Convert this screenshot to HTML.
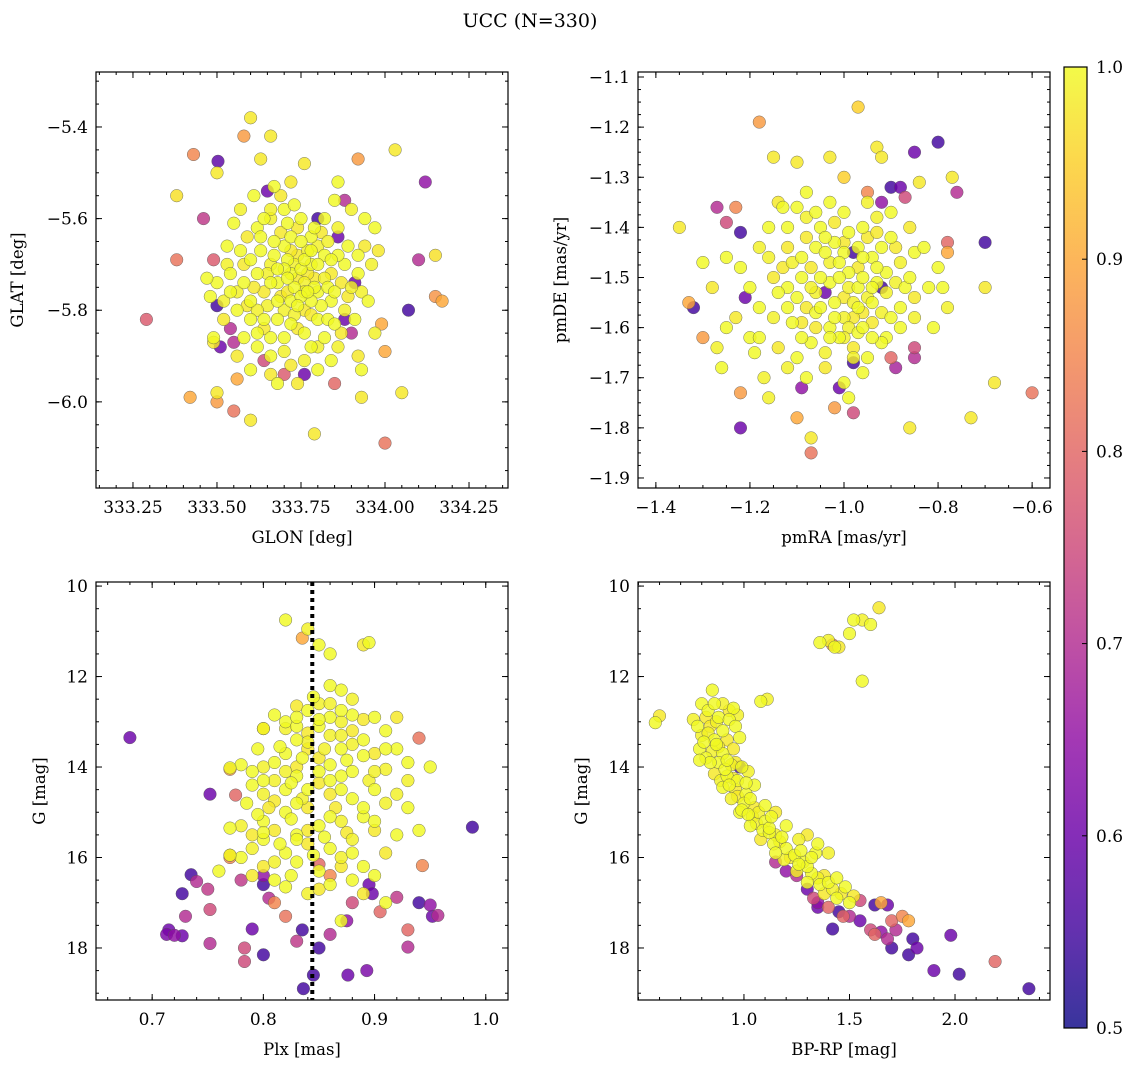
<!DOCTYPE html>
<html><head><meta charset="utf-8">
<style>
html,body{margin:0;padding:0;background:#fff;}
svg{display:block;font-family:"DejaVu Serif","Liberation Serif",serif;}
</style></head>
<body>
<svg id="fig" width="1136" height="1067" viewBox="0 0 1136 1067" xmlns="http://www.w3.org/2000/svg">
<defs>
<linearGradient id="cbgrad" x1="0" y1="1" x2="0" y2="0">
<stop offset="0" stop-color="#0d0887"/><stop offset="0.1" stop-color="#41049d"/><stop offset="0.2" stop-color="#6a00a8"/><stop offset="0.3" stop-color="#8f0da4"/><stop offset="0.4" stop-color="#b12a90"/><stop offset="0.5" stop-color="#cc4778"/><stop offset="0.6" stop-color="#e16462"/><stop offset="0.7" stop-color="#f2844b"/><stop offset="0.8" stop-color="#fca636"/><stop offset="0.9" stop-color="#fcce25"/><stop offset="1" stop-color="#f0f921"/>
</linearGradient>
</defs>
<text x="530" y="27" text-anchor="middle" font-size="19">UCC (N=330)</text>
</svg>
<script>
// ---- data arrays ----
const skyOutliers=[[333.29,-5.82,.78],[333.38,-5.69,.82],[333.38,-5.55,.97],[333.43,-5.46,.85],[333.46,-5.60,.72],[333.503,-5.475,.58],[333.49,-5.69,.78],[333.50,-5.50,.98],[333.42,-5.99,.9],[333.50,-5.98,.98],[333.50,-6.00,.88],[333.55,-6.02,.82],[333.60,-6.04,.98],[333.58,-5.42,.88],[333.60,-5.38,.98],[333.66,-5.42,.98],[333.63,-5.47,.98],[333.76,-5.48,.98],[333.92,-5.47,.88],[334.03,-5.45,.98],[334.12,-5.52,.65],[334.15,-5.68,.97],[334.10,-5.69,.7],[334.15,-5.77,.87],[334.17,-5.78,.9],[334.07,-5.80,.55],[334.00,-6.09,.82],[334.05,-5.98,.98],[333.79,-6.07,.98],[333.93,-5.99,.98],[333.80,-5.60,.55],[333.65,-5.54,.6],[333.50,-5.79,.55],[333.51,-5.88,.6],[333.49,-5.87,.98],[333.55,-5.87,.7],[333.54,-5.84,.7],[333.64,-5.91,.75],[333.70,-5.94,.78],[333.76,-5.94,.6],[333.85,-5.96,.8],[333.90,-5.85,.7],[333.88,-5.82,.6],[333.86,-5.64,.6],[333.94,-5.66,.98],[333.91,-5.74,.6],[333.99,-5.83,.9],[334.0,-5.89,.9],[333.92,-5.90,.98],[333.88,-5.56,.7],[333.56,-5.95,.9],[333.66,-5.94,.98]];
const skyCluster=[[333.62,-5.62],[333.66,-5.60],[333.70,-5.58],[333.74,-5.62],[333.78,-5.64],[333.82,-5.60],[333.86,-5.62],[333.70,-5.66],[333.74,-5.68],[333.78,-5.70],[333.82,-5.68],[333.66,-5.70],[333.62,-5.72],[333.58,-5.70],[333.54,-5.72],[333.50,-5.74],[333.56,-5.76],[333.60,-5.78],[333.64,-5.76],[333.68,-5.74],[333.72,-5.72],[333.76,-5.74],[333.80,-5.76],[333.84,-5.72],[333.88,-5.70],[333.92,-5.72],[333.96,-5.70],[333.72,-5.78],[333.76,-5.80],[333.80,-5.82],[333.84,-5.78],[333.88,-5.80],[333.68,-5.82],[333.64,-5.84],[333.60,-5.82],[333.56,-5.80],[333.52,-5.78],[333.70,-5.86],[333.74,-5.84],[333.78,-5.88],[333.82,-5.86],[333.86,-5.88],[333.66,-5.90],[333.72,-5.92],[333.62,-5.88],[333.58,-5.86],[333.76,-5.76],[333.73,-5.75],[333.69,-5.77],[333.75,-5.71],[333.71,-5.69],[333.77,-5.67],[333.67,-5.65],[333.79,-5.73],[333.83,-5.75],[333.81,-5.79],[333.65,-5.79],[333.63,-5.67],[333.59,-5.64],[333.55,-5.61],[333.53,-5.66],[333.57,-5.58],[333.61,-5.55],[333.69,-5.55],[333.73,-5.57],[333.85,-5.56],[333.90,-5.58],[333.94,-5.60],[333.98,-5.67],[333.95,-5.78],[333.91,-5.82],[333.93,-5.76],[333.89,-5.66],[333.87,-5.85],[333.84,-5.91],[333.80,-5.93],[333.76,-5.91],[333.68,-5.96],[333.74,-5.96],[333.64,-5.60],[333.72,-5.64],[333.80,-5.66],[333.70,-5.71],[333.74,-5.73],[333.78,-5.78],[333.66,-5.74],[333.62,-5.80],[333.58,-5.74],[333.52,-5.82],[333.48,-5.77],[333.47,-5.73],[333.53,-5.70],[333.49,-5.86],[333.56,-5.90],[333.60,-5.93],[333.93,-5.93],[333.97,-5.85],[333.86,-5.52],[333.72,-5.52],[333.67,-5.53],[333.97,-5.62]];
const skyCore=[[333.71,-5.73],[333.73,-5.70],[333.75,-5.77],[333.77,-5.72],[333.79,-5.75],[333.74,-5.79],[333.70,-5.80],[333.68,-5.71],[333.72,-5.67],[333.76,-5.69],[333.80,-5.70],[333.82,-5.73],[333.85,-5.76],[333.78,-5.81],[333.72,-5.83],[333.68,-5.78],[333.65,-5.72],[333.67,-5.68],[333.69,-5.63],[333.75,-5.65],[333.79,-5.62],[333.83,-5.65],[333.86,-5.68],[333.87,-5.74],[333.83,-5.82],[333.76,-5.85],[333.70,-5.89],[333.64,-5.82],[333.61,-5.75],[333.60,-5.69],[333.63,-5.64],[333.66,-5.58],[333.71,-5.61],[333.81,-5.63],[333.84,-5.69],[333.77,-5.76],[333.73,-5.81],[333.66,-5.86],[333.59,-5.79],[333.57,-5.67],[333.75,-5.60],[333.90,-5.75],[333.92,-5.68],[333.89,-5.77],[333.54,-5.76],[333.62,-5.85],[333.80,-5.88],[333.85,-5.83],[333.71,-5.76],[333.78,-5.67]];
const pmOutliers=[[-1.35,-1.40,.98],[-1.33,-1.55,.9],[-1.32,-1.56,.55],[-1.30,-1.62,.88],[-1.27,-1.36,.7],[-1.25,-1.39,.75],[-1.23,-1.36,.85],[-1.22,-1.41,.55],[-1.21,-1.54,.6],[-1.22,-1.80,.6],[-1.22,-1.73,.88],[-1.18,-1.19,.88],[-1.15,-1.26,.98],[-1.10,-1.27,.98],[-0.97,-1.16,.95],[-1.00,-1.30,.95],[-0.93,-1.24,.98],[-0.92,-1.26,.98],[-0.85,-1.25,.6],[-0.80,-1.23,.55],[-0.77,-1.30,.98],[-0.76,-1.33,.7],[-0.70,-1.43,.55],[-0.70,-1.52,.98],[-0.68,-1.71,.98],[-0.60,-1.73,.82],[-0.73,-1.78,.98],[-0.78,-1.43,.8],[-0.78,-1.45,.9],[-0.88,-1.32,.6],[-0.87,-1.34,.75],[-0.86,-1.80,.98],[-0.85,-1.66,.7],[-0.85,-1.64,.75],[-0.90,-1.66,.8],[-0.89,-1.68,.68],[-0.98,-1.77,.75],[-0.98,-1.67,.55],[-1.02,-1.76,.88],[-1.01,-1.72,.6],[-1.07,-1.85,.82],[-1.07,-1.82,.98],[-1.09,-1.72,.65],[-1.10,-1.78,.9],[-0.95,-1.33,.85],[-0.92,-1.35,.65],[-1.04,-1.53,.6],[-0.92,-1.52,.55],[-0.98,-1.45,.55],[-0.90,-1.32,.55]];
const pmCluster=[[-1.10,-1.36],[-1.08,-1.38],[-1.05,-1.40],[-1.02,-1.39],[-0.99,-1.41],[-0.96,-1.40],[-0.93,-1.38],[-0.90,-1.42],[-1.12,-1.44],[-1.09,-1.46],[-1.06,-1.44],[-1.03,-1.47],[-1.00,-1.45],[-0.97,-1.48],[-0.94,-1.46],[-0.91,-1.49],[-0.88,-1.47],[-0.85,-1.45],[-1.15,-1.50],[-1.12,-1.52],[-1.09,-1.50],[-1.06,-1.53],[-1.03,-1.51],[-1.00,-1.54],[-0.97,-1.52],[-0.94,-1.55],[-0.91,-1.53],[-0.88,-1.56],[-0.85,-1.54],[-0.82,-1.52],[-1.18,-1.56],[-1.15,-1.58],[-1.12,-1.56],[-1.09,-1.59],[-1.06,-1.57],[-1.03,-1.60],[-1.00,-1.58],[-0.97,-1.61],[-0.94,-1.59],[-0.91,-1.62],[-0.88,-1.60],[-0.85,-1.58],[-1.20,-1.62],[-1.14,-1.64],[-1.10,-1.66],[-1.07,-1.63],[-1.04,-1.65],[-1.01,-1.62],[-0.98,-1.64],[-0.95,-1.66],[-0.92,-1.63],[-1.12,-1.68],[-1.08,-1.70],[-1.04,-1.68],[-1.00,-1.71],[-0.96,-1.69],[-1.17,-1.70],[-1.25,-1.60],[-1.28,-1.52],[-1.25,-1.46],[-1.22,-1.48],[-1.18,-1.44],[-1.16,-1.40],[-1.14,-1.35],[-1.08,-1.33],[-1.03,-1.35],[-0.95,-1.35],[-0.90,-1.37],[-0.86,-1.40],[-0.83,-1.44],[-0.80,-1.48],[-0.78,-1.56],[-0.81,-1.60],[-0.84,-1.31],[-0.79,-1.52],[-1.26,-1.68],[-1.27,-1.64],[-1.18,-1.62],[-1.13,-1.48],[-0.99,-1.49],[-1.01,-1.50],[-0.98,-1.55],[-1.05,-1.56],[-0.96,-1.57],[-1.02,-1.43],[-0.93,-1.51],[-0.89,-1.51],[-1.11,-1.59],[-1.07,-1.48],[-1.13,-1.36],[-0.96,-1.60],[-0.92,-1.57],[-1.20,-1.52],[-1.23,-1.58],[-1.19,-1.65],[-1.30,-1.47],[-1.16,-1.74],[-0.99,-1.74],[-1.03,-1.26]];
const pmCore=[[-1.01,-1.47],[-0.99,-1.52],[-0.96,-1.50],[-0.98,-1.58],[-1.02,-1.55],[-1.05,-1.50],[-0.95,-1.54],[-0.93,-1.48],[-1.00,-1.43],[-0.97,-1.44],[-1.04,-1.45],[-1.07,-1.52],[-1.10,-1.54],[-1.08,-1.42],[-0.92,-1.44],[-0.94,-1.62],[-0.99,-1.60],[-1.03,-1.62],[-1.06,-1.60],[-0.90,-1.58],[-0.87,-1.52],[-1.11,-1.47],[-1.14,-1.53],[-0.95,-1.42],[-1.00,-1.37],[-1.06,-1.37],[-0.98,-1.66],[-1.09,-1.62],[-0.93,-1.41],[-0.97,-1.56],[-1.02,-1.58],[-1.16,-1.46],[-1.12,-1.40],[-0.89,-1.44],[-0.86,-1.50],[-1.04,-1.42],[-1.00,-1.62],[-0.96,-1.46],[-1.08,-1.56],[-0.94,-1.52]];
const plxOutliers=[[0.68,13.35,.6],[0.752,14.6,.6],[0.77,14.05,.88],[0.775,14.62,.8],[0.75,16.7,.72],[0.735,16.38,.55],[0.727,16.8,.55],[0.73,17.3,.7],[0.715,17.6,.6],[0.713,17.7,.62],[0.72,17.72,.65],[0.727,17.73,.6],[0.74,16.53,.7],[0.752,17.15,.75],[0.752,17.9,.7],[0.783,18.0,.75],[0.783,18.3,.75],[0.79,17.58,.6],[0.8,18.15,.55],[0.80,16.4,.65],[0.80,16.6,.55],[0.78,16.5,.72],[0.836,18.9,.55],[0.845,18.6,.55],[0.85,18.0,.55],[0.876,18.6,.6],[0.893,18.5,.62],[0.83,17.85,.72],[0.835,17.6,.55],[0.86,17.7,.7],[0.875,17.4,.65],[0.895,16.6,.6],[0.898,16.8,.6],[0.92,16.88,.72],[0.93,17.6,.8],[0.93,17.98,.7],[0.94,17.0,.55],[0.95,17.05,.65],[0.952,17.3,.6],[0.957,17.28,.7],[0.988,15.33,.55],[0.943,16.18,.85],[0.94,13.36,.82],[0.835,11.15,.9],[0.85,16.15,.8],[0.88,17.0,.75],[0.905,17.2,.8],[0.81,17.0,.85],[0.82,17.3,.82],[0.86,16.4,.85],[0.805,16.9,.7],[0.77,16.0,.85],[0.77,15.95,.9]];
const plxCluster=[[0.82,10.75],[0.84,10.95],[0.85,11.3],[0.89,11.3],[0.895,11.25],[0.86,12.2],[0.85,12.6],[0.84,12.75],[0.83,12.65],[0.86,12.9],[0.87,12.3],[0.88,12.5],[0.81,12.85],[0.80,13.15],[0.82,13.0],[0.85,13.1],[0.87,13.0],[0.88,12.85],[0.89,12.95],[0.90,12.9],[0.91,13.2],[0.86,13.3],[0.83,13.4],[0.84,13.6],[0.82,13.7],[0.81,13.9],[0.80,14.0],[0.79,14.1],[0.85,13.8],[0.86,13.95],[0.87,13.6],[0.88,13.5],[0.89,13.4],[0.90,13.7],[0.92,13.6],[0.93,13.9],[0.91,14.05],[0.87,14.2],[0.85,14.35],[0.83,14.2],[0.82,14.5],[0.80,14.6],[0.79,14.4],[0.86,14.6],[0.88,14.7],[0.90,14.5],[0.91,14.8],[0.93,14.9],[0.84,14.9],[0.82,15.0],[0.80,15.2],[0.78,15.3],[0.77,15.35],[0.81,15.4],[0.83,15.5],[0.85,15.3],[0.87,15.2],[0.89,15.1],[0.90,15.4],[0.92,15.5],[0.94,15.4],[0.88,15.6],[0.86,15.8],[0.84,15.7],[0.82,15.9],[0.80,15.6],[0.79,15.8],[0.78,16.0],[0.80,16.2],[0.83,16.1],[0.85,16.3],[0.87,16.0],[0.89,16.2],[0.91,15.9],[0.90,16.4],[0.81,16.5],[0.84,16.8],[0.86,16.6],[0.79,16.4],[0.77,15.95],[0.76,16.3],[0.93,14.3],[0.95,14.0],[0.92,12.9],[0.91,13.6],[0.83,14.8],[0.81,14.3],[0.85,12.95],[0.84,13.25],[0.78,13.95],[0.77,14.02],[0.82,13.15],[0.88,14.1],[0.89,16.8],[0.91,17.0],[0.87,17.4],[0.80,13.15],[0.86,11.5]];
const plxCore=[[0.83,13.1],[0.84,13.45],[0.835,13.8],[0.83,14.0],[0.825,14.35],[0.84,14.5],[0.835,14.7],[0.825,15.15],[0.84,15.4],[0.83,15.6],[0.845,15.95],[0.82,14.1],[0.815,13.55],[0.81,14.75],[0.815,15.7],[0.85,14.1],[0.855,13.6],[0.86,14.3],[0.865,14.9],[0.86,15.1],[0.855,15.55],[0.87,13.3],[0.875,13.85],[0.88,13.2],[0.87,12.75],[0.89,13.75],[0.895,14.3],[0.87,14.5],[0.875,15.45],[0.88,15.9],[0.89,14.9],[0.90,14.1],[0.80,14.3],[0.805,14.9],[0.80,15.45],[0.795,15.05],[0.81,16.1],[0.825,16.4],[0.79,15.5],[0.785,14.8],[0.83,12.9],[0.86,12.6],[0.845,12.45],[0.87,16.2],[0.88,16.5],[0.90,15.2],[0.92,14.6],[0.795,13.6],[0.85,16.7],[0.82,16.65]];
const cmdOutliers=[[1.42,11.3,.85],[1.25,16.4,.7],[1.30,16.7,.6],[1.35,17.0,.65],[1.40,17.1,.8],[1.45,17.2,.55],[1.50,17.3,.7],[1.55,17.4,.6],[1.60,17.6,.75],[1.62,17.7,.8],[1.65,17.65,.65],[1.68,17.8,.7],[1.70,17.4,.8],[1.72,17.6,.7],[1.75,17.3,.85],[1.78,17.4,.9],[1.80,17.8,.55],[1.82,18.0,.6],[1.78,18.15,.55],[1.70,18.0,.55],[1.90,18.5,.6],[2.02,18.58,.55],[1.98,17.72,.6],[2.19,18.3,.8],[2.35,18.9,.55],[1.42,17.58,.55],[1.55,16.95,.75],[1.65,17.0,.9],[1.68,17.05,.6],[1.62,17.05,.55],[1.35,17.1,.6],[1.20,16.3,.65],[1.15,16.1,.7],[0.98,14.0,.55],[1.33,16.9,.75],[1.47,17.3,.8]];
const cmdCluster=[[1.36,11.25],[1.40,11.2],[1.43,11.35],[1.45,11.35],[1.50,11.05],[1.52,10.75],[1.56,10.75],[1.60,10.85],[1.64,10.48],[1.56,12.1],[1.08,12.55],[1.11,12.5],[0.58,13.02],[0.60,12.87],[0.85,12.3],[0.80,12.6],[0.90,12.6],[0.95,12.7],[0.82,12.9],[0.88,12.9],[0.93,12.95],[0.97,12.85],[0.78,13.1],[0.84,13.1],[0.90,13.2],[0.96,13.1],[0.80,13.3],[0.86,13.4],[0.92,13.4],[0.98,13.35],[0.79,13.6],[0.85,13.65],[0.90,13.7],[0.95,13.6],[0.82,13.8],[0.88,13.9],[0.94,13.95],[0.99,14.0],[0.86,14.15],[0.92,14.2],[0.97,14.3],[1.02,14.1],[0.90,14.45],[0.96,14.5],[1.01,14.6],[1.05,14.4],[0.94,14.7],[1.00,14.8],[1.05,14.9],[1.10,14.85],[0.98,15.0],[1.04,15.1],[1.10,15.2],[1.15,15.0],[1.03,15.3],[1.09,15.4],[1.15,15.5],[1.20,15.3],[1.08,15.6],[1.14,15.7],[1.20,15.8],[1.26,15.6],[1.15,15.9],[1.22,16.0],[1.28,16.1],[1.34,15.9],[1.25,16.3],[1.32,16.35],[1.38,16.4],[1.30,16.55],[1.36,16.6],[1.42,16.7],[1.48,16.65],[1.38,16.8],[1.44,16.9],[1.50,17.0],[1.40,15.9],[1.35,15.7],[1.30,15.5]];
const cmdCore=[[0.83,12.75],[0.87,13.0],[0.81,13.45],[0.88,13.55],[0.84,13.9],[0.91,14.05],[0.89,14.3],[0.93,14.4],[0.97,14.65],[0.99,14.95],[1.02,15.05],[1.06,15.25],[1.12,15.45],[1.17,15.65],[1.24,15.95],[1.30,16.2],[1.35,16.45],[1.40,16.55],[1.46,16.8],[1.18,15.55],[1.12,15.35],[1.07,15.0],[1.03,14.7],[0.95,14.25],[0.92,13.85],[0.87,13.5],[0.83,13.25],[0.86,12.6],[0.93,12.75],[1.26,16.15],[1.32,16.0],[0.76,12.95],[0.79,13.85],[0.96,13.9],[1.01,14.35],[1.13,15.1],[1.19,16.05],[1.44,16.45],[1.52,16.85],[1.27,15.85]];
const clusterProb=[1.0,0.99,1.0,0.98,1.0];
const plxLine=0.844;
const skyXTicks=[333.25,333.50,333.75,334.00,334.25];
const skyYTicks=[-5.4,-5.6,-5.8,-6.0];
const pmXTicks=[-1.4,-1.2,-1.0,-0.8,-0.6];
const pmYTicks=[-1.1,-1.2,-1.3,-1.4,-1.5,-1.6,-1.7,-1.8,-1.9];
const plxXTicks=[0.7,0.8,0.9,1.0];
const gTicks=[10,12,14,16,18];
const cmdXTicks=[1.0,1.5,2.0];
const cbTicks=[0.5,0.6,0.7,0.8,0.9,1.0];

const NS='http://www.w3.org/2000/svg';
const svg=document.getElementById('fig');
function mk(tag,attrs,parent){const e=document.createElementNS(NS,tag);for(const k in attrs)e.setAttribute(k,attrs[k]);(parent||svg).appendChild(e);return e;}
const stops=[[0,[13,8,135]],[.1,[65,4,157]],[.2,[106,0,168]],[.3,[143,13,164]],[.4,[177,42,144]],[.5,[204,71,120]],[.6,[225,100,98]],[.7,[242,132,75]],[.8,[252,166,54]],[.9,[252,206,37]],[1,[240,249,33]]];
function plasma(p){let t=Math.max(0,Math.min(1,(p-0.5)/0.5));for(let i=1;i<stops.length;i++){if(t<=stops[i][0]){const a=stops[i-1],b=stops[i];const f=(t-a[0])/(b[0]-a[0]);const c=a[1].map((v,j)=>Math.round(v+(b[1][j]-v)*f));return `rgb(${c[0]},${c[1]},${c[2]})`;}}return 'rgb(240,249,33)';}
function fmt(v,d){return v.toFixed(d).replace('-','\u2212');}

function panel(cfg){
  const g=mk('g',{});
  
  
  const {x0,x1,y0,y1,xmin,xmax,ymin,ymax}=cfg;
  const sx=v=>x0+(v-xmin)/(xmax-xmin)*(x1-x0);
  const sy=v=>cfg.invert? y0+(v-ymin)/(ymax-ymin)*(y1-y0) : y1-(v-ymin)/(ymax-ymin)*(y1-y0);
  const clip='clip-'+cfg.name;
  const cp=mk('clipPath',{id:clip},g);mk('rect',{x:x0,y:y0,width:x1-x0,height:y1-y0},cp);
  const pts=cfg.points.slice().sort((a,b)=>a[2]-b[2]);
  const pg=mk('g',{'clip-path':`url(#${clip})`},g);
  
  
  pts.forEach(p=>{
    const c=mk('circle',{cx:sx(p[0]).toFixed(1),cy:sy(p[1]).toFixed(1),r:6.3,fill:plasma(p[2]),'fill-opacity':0.82,stroke:'#555','stroke-width':0.5,'stroke-opacity':0.8},pg);
    
    
  });
  if(cfg.vline!==undefined){
    const l=mk('line',{x1:sx(cfg.vline),x2:sx(cfg.vline),y1:y0,y2:y1,stroke:'#000','stroke-width':4,'stroke-dasharray':'4,4'},g);
    
    
  }
  mk('rect',{x:x0,y:y0,width:x1-x0,height:y1-y0,fill:'none',stroke:'#000','stroke-width':1.2},g);
  const mx=cfg.xminor, my=cfg.yminor;
  for(let v=Math.ceil(xmin/mx)*mx;v<=xmax+1e-9;v+=mx){const X=sx(v);mk('line',{x1:X,x2:X,y1:y1,y2:y1-3,stroke:'#000'},g);mk('line',{x1:X,x2:X,y1:y0,y2:y0+3,stroke:'#000'},g);}
  const ylo=Math.min(ymin,ymax),yhi=Math.max(ymin,ymax);
  for(let v=Math.ceil(ylo/my)*my;v<=yhi+1e-9;v+=my){const Y=sy(v);mk('line',{x1:x0,x2:x0+3,y1:Y,y2:Y,stroke:'#000'},g);mk('line',{x1:x1,x2:x1-3,y1:Y,y2:Y,stroke:'#000'},g);}
  cfg.xticks.forEach(v=>{const X=sx(v);mk('line',{x1:X,x2:X,y1:y1,y2:y1-6,stroke:'#000'},g);mk('line',{x1:X,x2:X,y1:y0,y2:y0+6,stroke:'#000'},g);
    const t=mk('text',{x:X,y:y1+25,'text-anchor':'middle','font-size':17},g);t.textContent=fmt(v,cfg.xdec);
    
    });
  cfg.yticks.forEach(v=>{const Y=sy(v);mk('line',{x1:x0,x2:x0+6,y1:Y,y2:Y,stroke:'#000'},g);mk('line',{x1:x1,x2:x1-6,y1:Y,y2:Y,stroke:'#000'},g);
    const t=mk('text',{x:x0-8,y:Y+6,'text-anchor':'end','font-size':17},g);t.textContent=fmt(v,cfg.ydec);
    
    });
  const xl=mk('text',{x:(x0+x1)/2,y:y1+55,'text-anchor':'middle','font-size':16.5},g);xl.textContent=cfg.xlabel;
  
  
  const yl=mk('text',{x:cfg.ylx,y:(y0+y1)/2,'text-anchor':'middle','font-size':16.5,transform:`rotate(-90 ${cfg.ylx} ${(y0+y1)/2})`},g);yl.textContent=cfg.ylabel;
  
  
}
function withProb(arr){return arr.map((p,i)=>[p[0],p[1],clusterProb[i%clusterProb.length]]);}

panel({name:'sky-panel',x0:96,x1:508,y0:72,y1:488,xmin:333.14,xmax:334.366,ymin:-6.188,ymax:-5.28,xticks:skyXTicks,yticks:skyYTicks,xdec:2,ydec:1,xminor:0.05,yminor:0.05,xlabel:'GLON [deg]',ylabel:'GLAT [deg]',ylx:23,points:skyOutliers.concat(withProb(skyCluster),withProb(skyCore))});
panel({name:'proper-motion-panel',x0:638,x1:1050,y0:72,y1:488,xmin:-1.438,xmax:-0.562,ymin:-1.92,ymax:-1.09,xticks:pmXTicks,yticks:pmYTicks,xdec:1,ydec:1,xminor:0.05,yminor:0.025,xlabel:'pmRA [mas/yr]',ylabel:'pmDE [mas/yr]',ylx:566,points:pmOutliers.concat(withProb(pmCluster),withProb(pmCore))});
panel({name:'parallax-panel',x0:96,x1:508,y0:582,y1:1000,xmin:0.6495,xmax:1.02,ymin:9.91,ymax:19.15,invert:true,xticks:plxXTicks,yticks:gTicks,xdec:1,ydec:0,xminor:0.02,yminor:0.5,xlabel:'Plx [mas]',ylabel:'G [mag]',ylx:45,vline:plxLine,points:plxOutliers.concat(withProb(plxCluster),withProb(plxCore))});
panel({name:'cmd-panel',x0:638,x1:1050,y0:582,y1:1000,xmin:0.498,xmax:2.45,ymin:9.91,ymax:19.15,invert:true,xticks:cmdXTicks,yticks:gTicks,xdec:1,ydec:0,xminor:0.1,yminor:0.5,xlabel:'BP-RP [mag]',ylabel:'G [mag]',ylx:587,points:cmdOutliers.concat(withProb(cmdCluster),withProb(cmdCore))});

const cb=mk('g',{});


const cbx=1064,cbw=23,cby0=67,cby1=1028;
mk('rect',{x:cbx,y:cby0,width:cbw,height:cby1-cby0,fill:'url(#cbgrad)','fill-opacity':0.82},cb);
mk('rect',{x:cbx,y:cby0,width:cbw,height:cby1-cby0,fill:'none',stroke:'#000','stroke-width':1.2},cb);
cbTicks.forEach(v=>{const Y=cby1-(v-0.5)/0.5*(cby1-cby0);
  mk('line',{x1:cbx+cbw,x2:cbx+cbw-5,y1:Y,y2:Y,stroke:'#000'},cb);
  const t=mk('text',{x:cbx+cbw+9,y:Y+6,'font-size':17},cb);t.textContent=v.toFixed(1);
  
  });
</script>
</body></html>
